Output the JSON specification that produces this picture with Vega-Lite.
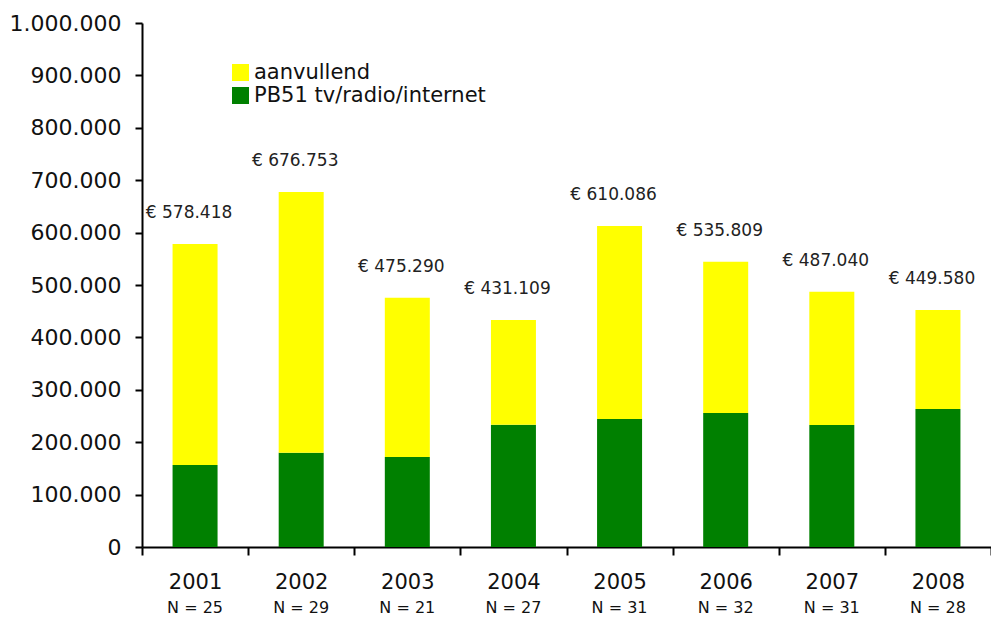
{
  "$schema": "https://vega.github.io/schema/vega-lite/v6.json",
  "width": 849,
  "height": 524,
  "autosize": {"type": "none"},
  "padding": {"left": 142, "top": 23, "right": 0, "bottom": 70},
  "background": "white",
  "config": {
    "font": "DejaVu Sans",
    "view": {"stroke": null},
    "axis": {"grid": false, "domainColor": "black", "tickColor": "black", "domainWidth": 2, "tickWidth": 2, "labelColor": "#111"}
  },
  "data": {
    "values": [
      {"year": "2001", "series": "PB51 tv/radio/internet", "value": 156500, "label": "€ 578.418"},
      {"year": "2001", "series": "aanvullend", "value": 421700, "label": "€ 578.418"},
      {"year": "2002", "series": "PB51 tv/radio/internet", "value": 180000, "label": "€ 676.753"},
      {"year": "2002", "series": "aanvullend", "value": 497500, "label": "€ 676.753"},
      {"year": "2003", "series": "PB51 tv/radio/internet", "value": 171800, "label": "€ 475.290"},
      {"year": "2003", "series": "aanvullend", "value": 304000, "label": "€ 475.290"},
      {"year": "2004", "series": "PB51 tv/radio/internet", "value": 233400, "label": "€ 431.109"},
      {"year": "2004", "series": "aanvullend", "value": 199600, "label": "€ 431.109"},
      {"year": "2005", "series": "PB51 tv/radio/internet", "value": 244300, "label": "€ 610.086"},
      {"year": "2005", "series": "aanvullend", "value": 368300, "label": "€ 610.086"},
      {"year": "2006", "series": "PB51 tv/radio/internet", "value": 255700, "label": "€ 535.809"},
      {"year": "2006", "series": "aanvullend", "value": 288800, "label": "€ 535.809"},
      {"year": "2007", "series": "PB51 tv/radio/internet", "value": 232800, "label": "€ 487.040"},
      {"year": "2007", "series": "aanvullend", "value": 254400, "label": "€ 487.040"},
      {"year": "2008", "series": "PB51 tv/radio/internet", "value": 263400, "label": "€ 449.580"},
      {"year": "2008", "series": "aanvullend", "value": 188900, "label": "€ 449.580"}
    ]
  },
  "layer": [
    {
      "mark": {"type": "bar", "size": 45},
      "encoding": {
        "x": {
          "field": "year", "type": "ordinal",
          "scale": {"paddingInner": 0, "paddingOuter": 0},
          "axis": {"title": null, "orient": "bottom", "labelAngle": 0, "labelFontSize": 21, "tickBand": "extent", "tickSize": 8, "labelPadding": 16}
        },
        "y": {
          "field": "value", "type": "quantitative", "stack": "zero",
          "scale": {"domain": [0, 1000000]},
          "axis": {"title": null, "values": [0, 100000, 200000, 300000, 400000, 500000, 600000, 700000, 800000, 900000, 1000000],
            "labelExpr": "replace(format(datum.value, ','), regexp(',', 'g'), '.')",
            "labelFontSize": 22, "tickSize": 7, "labelPadding": 14}
        },
        "color": {
          "field": "series", "type": "nominal",
          "scale": {"domain": ["aanvullend", "PB51 tv/radio/internet"], "range": ["#FFFF00", "#008000"]},
          "legend": {"orient": "none", "legendX": 88, "legendY": 39, "title": null, "symbolType": "square", "symbolSize": 289, "symbolStrokeWidth": 0, "labelFontSize": 21, "labelColor": "#111", "labelLimit": 400, "rowPadding": 1, "labelOffset": 3, "padding": 0}
        },
        "order": {"field": "series", "sort": "ascending"}
      }
    },
    {
      "transform": [{"aggregate": [{"op": "sum", "field": "value", "as": "top"}], "groupby": ["year", "label"]}],
      "mark": {"type": "text", "dy": -31, "dx": -6, "fontSize": 17, "color": "#222"},
      "encoding": {
        "x": {
          "field": "year", "type": "ordinal",
          "axis": {"title": null, "orient": "bottom", "labelAngle": 0, "domain": false, "ticks": false, "labelFontSize": 16, "labelPadding": 52,
            "labelExpr": "['N = 25','N = 29','N = 21','N = 27','N = 31','N = 32','N = 31','N = 28'][toNumber(datum.label) - 2001]"}
        },
        "y": {"field": "top", "type": "quantitative"},
        "text": {"field": "label"}
      }
    }
  ],
  "resolve": {"axis": {"x": "independent"}}
}
